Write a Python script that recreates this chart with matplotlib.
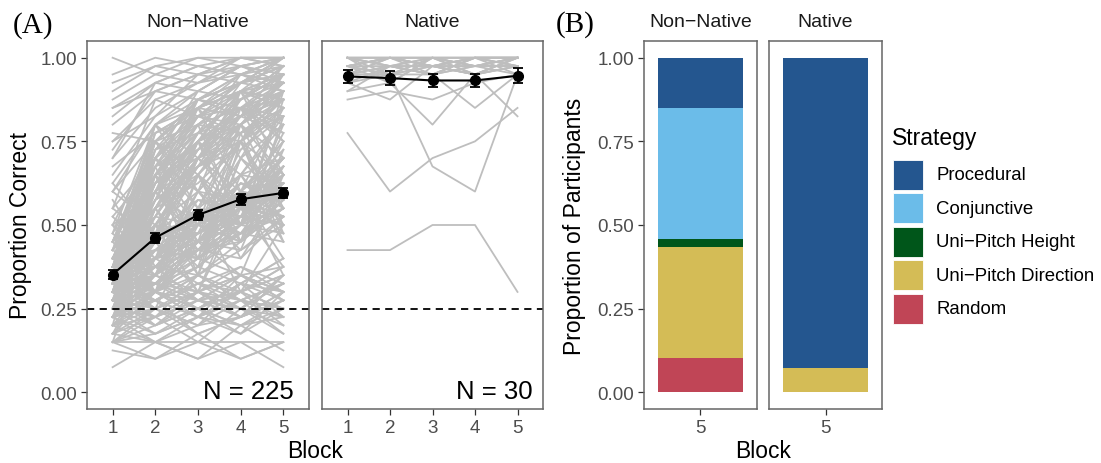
# Learning curves and strategy proportions (Non-Native vs Native listeners)

import numpy as np
import matplotlib
matplotlib.use('Agg')
import matplotlib.pyplot as plt
from matplotlib.patches import Rectangle

plt.rcParams['font.family'] = ['Liberation Sans', 'DejaVu Sans']

W, H = 1101, 464

blocks = [1, 2, 3, 4, 5]
trials_per_block = 40

# Non-native participants, correct trials out of 40 per block
nn_low = [
    [6, 6, 6, 6, 6], [6, 4, 6, 4, 6], [3, 6, 4, 6, 3], [5, 4, 7, 4, 6], [7, 6, 4, 8, 5],
    [8, 10, 7, 9, 11], [9, 7, 10, 8, 9], [10, 12, 9, 11, 10], [6, 8, 10, 7, 12], [11, 9, 12, 10, 13],
    [12, 10, 8, 13, 9], [8, 12, 11, 9, 14], [9, 11, 13, 12, 10], [13, 11, 9, 14, 12], [10, 8, 12, 11, 7],
    [7, 9, 6, 10, 8], [11, 13, 10, 12, 15], [12, 9, 14, 11, 13], [14, 12, 10, 13, 11], [6, 7, 9, 8, 10],
    [9, 6, 8, 11, 9], [10, 11, 7, 9, 12], [13, 10, 12, 14, 11], [8, 11, 9, 12, 10], [12, 14, 11, 10, 13],
    [11, 8, 10, 13, 12], [7, 10, 12, 9, 11], [14, 11, 13, 10, 14], [10, 13, 11, 14, 12], [9, 12, 10, 8, 11],
    [6, 9, 11, 10, 7], [12, 11, 14, 12, 15], [8, 6, 9, 7, 10], [11, 14, 12, 15, 13], [13, 12, 15, 13, 16],
    [10, 9, 11, 12, 14], [15, 13, 12, 14, 11], [7, 12, 9, 11, 13], [12, 8, 11, 9, 12], [9, 10, 13, 11, 10],
    [14, 16, 13, 15, 12], [11, 12, 10, 13, 16], [8, 9, 12, 10, 9], [13, 15, 11, 12, 14], [10, 7, 9, 12, 8],
    [6, 10, 8, 9, 11], [12, 13, 16, 14, 12], [15, 12, 14, 11, 13], [9, 13, 11, 14, 15], [11, 10, 12, 9, 14],
]
nn_slow = [
    [10, 14, 17, 19, 22], [12, 15, 19, 22, 24], [14, 18, 16, 21, 25], [11, 13, 18, 20, 19], [13, 17, 20, 18, 23],
    [9, 12, 15, 19, 21], [15, 19, 18, 22, 26], [12, 16, 21, 24, 23], [16, 18, 22, 20, 27], [10, 15, 14, 18, 22],
    [13, 14, 19, 23, 21], [11, 17, 16, 20, 24], [14, 16, 20, 22, 25], [12, 18, 22, 19, 26], [15, 14, 18, 21, 20],
    [9, 13, 17, 16, 21], [16, 20, 19, 23, 28], [11, 12, 16, 19, 18], [13, 19, 21, 25, 24], [14, 15, 17, 22, 27],
    [10, 16, 20, 18, 23], [12, 13, 15, 20, 22], [15, 17, 22, 26, 25], [13, 16, 18, 17, 21], [11, 14, 20, 23, 26],
    [16, 19, 23, 21, 24], [12, 17, 19, 24, 28], [14, 13, 17, 19, 22], [10, 11, 14, 17, 20], [15, 18, 21, 20, 25],
    [13, 15, 19, 22, 20], [12, 20, 18, 23, 27], [16, 15, 20, 24, 23], [11, 18, 22, 21, 26], [14, 17, 16, 19, 24],
    [9, 14, 18, 22, 21], [13, 12, 17, 20, 25], [15, 16, 23, 22, 28], [12, 19, 20, 25, 22], [10, 13, 16, 21, 24],
    [14, 20, 24, 23, 27], [11, 15, 17, 18, 22], [16, 17, 19, 22, 26], [13, 18, 21, 24, 21], [12, 14, 22, 20, 25],
    [15, 20, 17, 23, 24], [10, 17, 19, 21, 27], [14, 16, 18, 25, 23], [11, 19, 23, 22, 20], [13, 13, 18, 21, 26],
    [16, 21, 20, 24, 29], [12, 15, 21, 19, 23], [9, 16, 17, 23, 25], [15, 18, 22, 21, 24], [14, 19, 20, 26, 28],
]
nn_fast = [
    [14, 24, 30, 34, 36], [12, 22, 28, 33, 35], [16, 28, 32, 36, 38], [13, 20, 27, 30, 34], [15, 26, 31, 35, 37],
    [11, 21, 29, 32, 36], [18, 30, 34, 37, 39], [14, 25, 28, 34, 33], [12, 27, 33, 35, 38], [17, 24, 31, 30, 36],
    [13, 23, 26, 32, 35], [15, 29, 35, 38, 40], [16, 22, 30, 33, 31], [10, 19, 27, 31, 34], [14, 26, 32, 34, 37],
    [18, 31, 33, 36, 35], [12, 24, 29, 35, 38], [15, 21, 28, 31, 33], [13, 28, 34, 37, 39], [17, 25, 30, 32, 36],
    [11, 23, 31, 33, 37], [16, 27, 29, 34, 32], [14, 20, 26, 33, 36], [19, 32, 35, 37, 40], [12, 25, 33, 31, 35],
    [15, 24, 27, 35, 38], [13, 30, 32, 36, 34], [17, 22, 28, 30, 35], [14, 27, 31, 38, 37], [16, 23, 34, 33, 39],
    [10, 22, 25, 30, 33], [18, 28, 36, 35, 38], [13, 21, 30, 34, 31], [15, 26, 28, 32, 37], [12, 29, 33, 37, 36],
    [16, 24, 32, 31, 34], [14, 31, 34, 36, 40], [11, 20, 28, 33, 35], [17, 26, 30, 37, 38], [13, 24, 35, 34, 36],
    [15, 23, 27, 29, 33], [18, 29, 31, 35, 39], [12, 26, 32, 36, 37], [16, 21, 29, 34, 35], [14, 28, 33, 32, 38],
    [15, 25, 30, 36, 34], [13, 22, 31, 35, 39], [17, 30, 34, 38, 37], [12, 23, 27, 32, 36], [16, 27, 35, 37, 40],
    [14, 19, 26, 31, 35], [15, 32, 36, 39, 38], [13, 25, 29, 33, 37], [11, 24, 30, 36, 34], [18, 26, 33, 34, 38],
]
nn_high = [
    [32, 36, 38, 39, 40], [28, 34, 37, 38, 39], [36, 39, 40, 40, 40], [30, 35, 33, 37, 38], [34, 37, 39, 38, 40],
    [26, 33, 36, 39, 37], [38, 40, 39, 40, 40], [31, 30, 35, 38, 36], [29, 36, 38, 37, 39], [35, 38, 37, 40, 39],
    [27, 31, 34, 36, 38], [33, 37, 36, 39, 40], [40, 38, 40, 39, 40], [24, 30, 35, 33, 37], [30, 33, 38, 40, 39],
    [22, 35, 37, 39, 38], [34, 36, 35, 37, 40], [37, 39, 38, 40, 40], [25, 32, 34, 36, 35], [28, 37, 39, 38, 40],
]
nn_mixed = [
    [20, 16, 24, 18, 27], [8, 26, 14, 30, 20], [22, 18, 28, 24, 19], [15, 30, 22, 26, 32], [6, 20, 12, 24, 16],
    [18, 12, 26, 20, 30], [10, 24, 18, 14, 26], [24, 20, 15, 28, 22], [12, 28, 20, 34, 24], [19, 14, 22, 17, 29],
    [9, 22, 30, 18, 33], [21, 27, 16, 31, 19], [14, 10, 20, 26, 18], [17, 32, 24, 20, 35], [11, 18, 28, 22, 15],
    [23, 15, 19, 29, 34], [7, 16, 22, 12, 20], [16, 26, 18, 32, 28], [20, 30, 24, 36, 26], [13, 24, 17, 21, 31],
    [25, 19, 30, 22, 28], [8, 14, 24, 30, 18], [18, 22, 14, 26, 33], [12, 20, 26, 16, 24], [22, 28, 34, 24, 30],
    [10, 18, 12, 22, 28], [15, 26, 32, 20, 36], [20, 12, 18, 24, 14], [9, 20, 28, 32, 22], [17, 24, 20, 30, 38],
    [14, 30, 26, 18, 24], [21, 16, 28, 34, 30], [11, 26, 20, 24, 34], [19, 28, 22, 32, 26], [13, 18, 30, 26, 20],
    [16, 12, 22, 30, 26], [24, 32, 28, 36, 30], [10, 22, 16, 28, 32], [18, 26, 34, 28, 24], [12, 16, 20, 28, 36],
    [7, 12, 18, 24, 30], [15, 20, 26, 22, 28], [20, 24, 30, 34, 28], [13, 28, 24, 30, 22], [17, 14, 26, 20, 32],
]

# Native participants, correct trials out of 40 per block
nat_outliers = [
    [17, 17, 20, 20, 12], [31, 24, 28, 30, 34], [38, 38, 27, 24, 38], [36, 37, 32, 38, 39],
    [35, 36, 35, 37, 38], [38, 39, 38, 34, 38], [39, 40, 39, 38, 33], [37, 35, 39, 38, 40],
]
nat_top = [
    [40, 40, 39, 40, 40], [39, 38, 40, 39, 40], [40, 39, 38, 40, 39], [38, 40, 40, 39, 40],
    [39, 40, 39, 40, 38], [40, 38, 39, 39, 40], [37, 39, 40, 38, 39], [40, 40, 40, 39, 39],
    [39, 39, 38, 40, 40], [38, 39, 39, 38, 40], [40, 37, 40, 40, 39], [39, 40, 38, 39, 39],
    [36, 39, 39, 40, 40], [40, 39, 40, 38, 40], [38, 38, 39, 40, 39], [39, 40, 40, 40, 40],
    [37, 38, 38, 39, 39], [40, 40, 39, 39, 38], [39, 37, 40, 40, 40], [38, 40, 39, 38, 39],
    [40, 39, 38, 40, 40], [39, 38, 40, 39, 40],
]

# Group means and standard errors
mean_nn = [0.352, 0.462, 0.530, 0.577, 0.596]
se_nn = [0.012, 0.015, 0.016, 0.016, 0.016]
mean_nat = [0.944, 0.939, 0.932, 0.932, 0.946]
se_nat = [0.020, 0.022, 0.020, 0.020, 0.022]

n_labels = ['N = 225', 'N = 30']
groups = ['Non\u2212Native', 'Native']

# Panel B: proportion of participants per strategy in block 5
strategies = ['Procedural', 'Conjunctive', 'Uni\u2212Pitch Height', 'Uni\u2212Pitch Direction', 'Random']
strategy_colors = ['#24568F', '#6BBCE9', '#00561A', '#D4BC56', '#C04556']
prop_nn = [0.151, 0.391, 0.023, 0.333, 0.102]
prop_nat = [0.926, 0.0, 0.0, 0.074, 0.0]

GRAY = '#BEBEBE'
SPINE = '#666666'


def px_axes(fig, x0, y0, x1, y1):  # pixel box (from top-left) -> figure axes
    return fig.add_axes([x0 / W, 1 - y1 / H, (x1 - x0) / W, (y1 - y0) / H])


def style_axes(ax, show_y):
    for s in ax.spines.values():
        s.set_color(SPINE)
        s.set_linewidth(1.1)
    ax.tick_params(length=4, width=0.9, color='#333333', labelcolor='#4D4D4D',
                   labelsize=13.5, pad=3)
    ax.set_ylim(-0.05, 1.05)
    ax.set_yticks([0, 0.25, 0.5, 0.75, 1.0])
    if show_y:
        ax.set_yticklabels(['0.00', '0.25', '0.50', '0.75', '1.00'])
    else:
        ax.tick_params(axis='y', length=0, labelleft=False)


def strip_label(ax, text):
    ax.text(0.5, 1 + 19 / 368, text, transform=ax.transAxes, ha='center', va='center',
            fontsize=14, color='#1A1A1A')


def plot_curves(ax, rows, means, ses, label, label_x):
    x = np.array(blocks)
    for r in rows:
        ax.plot(x, np.array(r) / trials_per_block, color=GRAY, lw=1.3, zorder=1)
    ax.axhline(0.25, color='black', lw=1.3, ls=(0, (4, 3)), zorder=2)
    ax.errorbar(x, means, yerr=ses, color='black', lw=1.5, marker='o', ms=7,
                capsize=3.5, capthick=1.3, elinewidth=1.3, zorder=3)
    ax.text(label_x, 0.005, label, ha='right', va='center', fontsize=18.5, color='black')
    ax.set_xlim(0.4, 5.6)
    ax.set_xticks(blocks)


def plot_bar(ax, props):
    bottom = 0.0
    # stack from the bottom: Random first, Procedural last
    for name, col, p in reversed(list(zip(strategies, strategy_colors, props))):
        ax.bar([1], [p], bottom=bottom, width=0.9, color=col, linewidth=0)
        bottom += p
    ax.set_xlim(0.4, 1.6)
    ax.set_xticks([1])
    ax.set_xticklabels(['5'])


fig = plt.figure(figsize=(W / 100, H / 100), dpi=100)

# Panel A
ax1 = px_axes(fig, 87, 42, 309, 410)
ax2 = px_axes(fig, 322, 42, 543, 410)
plot_curves(ax1, nn_low + nn_slow + nn_fast + nn_high + nn_mixed, mean_nn, se_nn, n_labels[0], 5.24)
plot_curves(ax2, nat_outliers + nat_top, mean_nat, se_nat, n_labels[1], 5.36)
style_axes(ax1, True)
style_axes(ax2, False)
strip_label(ax1, groups[0])
strip_label(ax2, groups[1])

# Panel B
ax3 = px_axes(fig, 644, 42, 757, 410)
ax4 = px_axes(fig, 769, 42, 882, 410)
plot_bar(ax3, prop_nn)
plot_bar(ax4, prop_nat)
style_axes(ax3, True)
style_axes(ax4, False)
strip_label(ax3, groups[0])
strip_label(ax4, groups[1])

# Axis titles and panel letters
fig.text(21 / W, 1 - 226 / H, 'Proportion Correct', rotation=90, ha='center', va='center', fontsize=16.5)
fig.text(315 / W, 1 - 452 / H, 'Block', ha='center', va='center', fontsize=16.5)
fig.text(575 / W, 1 - 226 / H, 'Proportion of Participants', rotation=90, ha='center', va='center', fontsize=16.5)
fig.text(763 / W, 1 - 452 / H, 'Block', ha='center', va='center', fontsize=16.5)
fig.text(33 / W, 1 - 26 / H, '(A)', ha='center', va='center', fontsize=21, family='Liberation Serif')
fig.text(575 / W, 1 - 25 / H, '(B)', ha='center', va='center', fontsize=21, family='Liberation Serif')

# Legend, drawn by hand so the keys match the reference size
fig.text(892 / W, 1 - 138 / H, 'Strategy', ha='left', va='center', fontsize=16.5)
for i, (name, col) in enumerate(zip(strategies, strategy_colors)):
    top = 161 + i * 33.4
    fig.patches.append(Rectangle((893 / W, 1 - (top + 30) / H), 30 / W, 30 / H,
                                 transform=fig.transFigure, facecolor=col,
                                 edgecolor='white', linewidth=0.6))
    fig.text(936 / W, 1 - (top + 15) / H, name, ha='left', va='center', fontsize=13.4)

fig.savefig('out.png', dpi=100)
